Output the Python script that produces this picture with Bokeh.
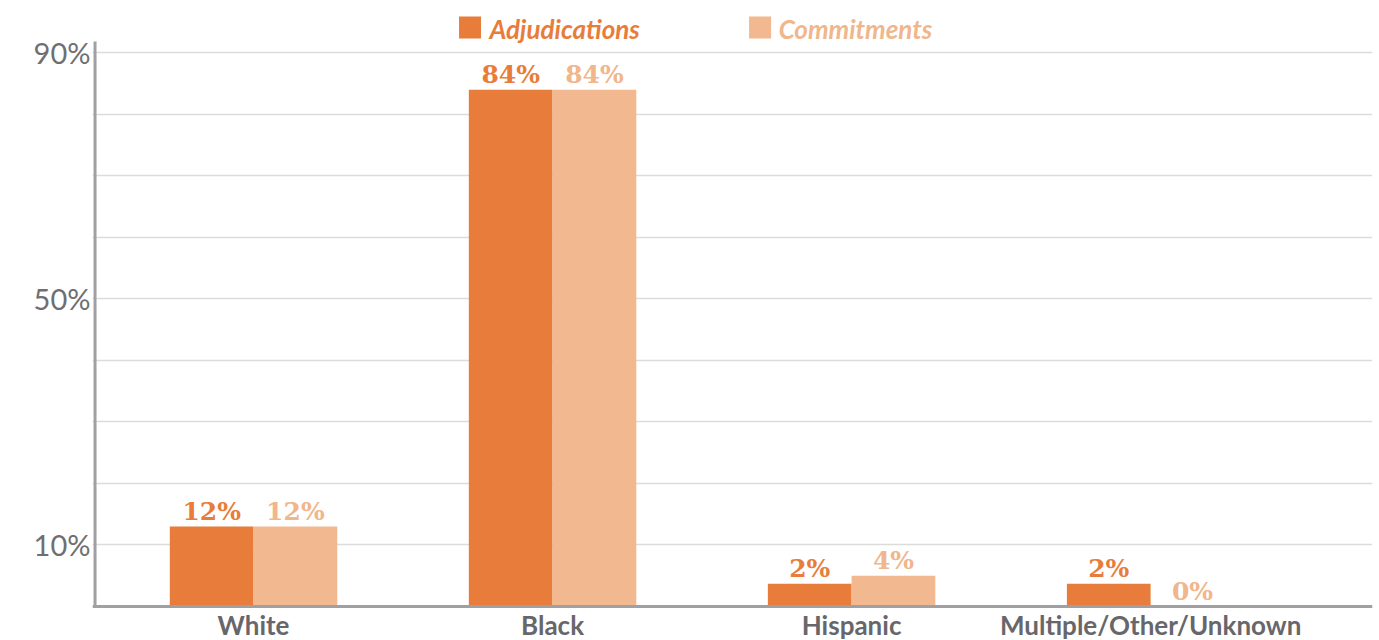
from bokeh.plotting import figure
from bokeh.models import Range1d, FixedTicker, PrintfTickFormatter, Span, ColumnDataSource
from bokeh.core.properties import value
from bokeh.embed import file_html
from bokeh.resources import INLINE

# ---- data ----
categories = ["White", "Black", "Hispanic", "Multiple/Other/Unknown"]
adjudications = [13.0, 84.0, 3.7, 3.7]
commitments = [13.0, 84.0, 5.0, 0.0]
adjudication_labels = ["12%", "84%", "2%", "2%"]
commitment_labels = ["12%", "84%", "4%", "0%"]
series_names = ["Adjudications", "Commitments"]
y_tick_values = [10, 50, 90]
grid_values = [10, 20, 30, 40, 50, 60, 70, 80, 90]

# ---- styles ----
ADJ = "#E87D3B"
COM = "#F2B890"
COM_TXT = "#F0B68C"
GRAY_TXT = "#6f6f72"
AXIS = "#a0a0a4"
BAR_W = 0.28

idx = list(range(len(categories)))
src = ColumnDataSource(dict(
    x_adj=[i - BAR_W / 2 for i in idx],
    x_com=[i + BAR_W / 2 for i in idx],
    adj=adjudications, com=commitments,
    adj_lab=adjudication_labels, com_lab=commitment_labels,
))
cat_src = ColumnDataSource(dict(x=idx, y=[0] * len(idx), t=categories))

p = figure(width=1379, height=640,
           x_range=Range1d(-0.5385, 3.742), y_range=Range1d(-5.527, 98.5),
           x_axis_location=None, output_backend="svg", toolbar_location=None,
           min_border_left=92, min_border_right=7, min_border_top=0, min_border_bottom=0)
p.outline_line_color = None
p.background_fill_color = "white"
p.border_fill_color = "white"

# grid
p.xgrid.grid_line_color = None
p.ygrid.ticker = FixedTicker(ticks=grid_values)
p.ygrid.grid_line_color = "#dcdcdc"
p.ygrid.grid_line_width = 1.5

# y axis
p.yaxis.ticker = FixedTicker(ticks=y_tick_values)
p.yaxis.formatter = PrintfTickFormatter(format="%d%%")
p.yaxis.axis_line_color = None
p.yaxis.major_tick_line_color = None
p.yaxis.minor_tick_line_color = None
p.yaxis.major_tick_out = 0
p.yaxis.major_tick_in = 0
p.yaxis.major_label_standoff = 2
p.yaxis.major_label_text_font = "Lato"
p.yaxis.major_label_text_font_size = "29px"
p.yaxis.major_label_text_color = GRAY_TXT

# bars
p.vbar(x="x_adj", top="adj", bottom=0, width=BAR_W, source=src, fill_color=ADJ, line_color=None)
p.vbar(x="x_com", top="com", bottom=0, width=BAR_W, source=src, fill_color=COM, line_color=None)

# value labels
lab_kw = dict(text_align="center", text_baseline="middle", y_offset=-15,
              text_font=value("DejaVu Serif"), text_font_style="bold", text_font_size="25px")
p.text(x="x_adj", y="adj", text="adj_lab", source=src, text_color=ADJ, **lab_kw)
p.text(x="x_com", y="com", text="com_lab", source=src, text_color=COM_TXT, **lab_kw)

# axis lines
p.segment(x0=[-0.530], y0=[0], x1=[-0.530], y1=[91.84], line_color=AXIS, line_width=3)
p.add_layout(Span(location=0, dimension="width", line_color=AXIS, line_width=3, level="overlay"))

# category labels
p.text(x="x", y="y", text="t", source=cat_src, text_align="center", text_baseline="middle",
       y_offset=19, text_font=value("Lato"), text_font_style="bold", text_font_size="26px",
       text_color="#67676b")

# legend (manual, coloured labels)
leg_sq_x = [0.724, 1.694]
leg_tx_x = [0.789, 1.756]
leg_colors = [ADJ, COM]
leg_txt_colors = [ADJ, COM_TXT]
for name, sx, tx, c, tc in zip(series_names, leg_sq_x, leg_tx_x, leg_colors, leg_txt_colors):
    p.scatter(x=[sx], y=[94.1], marker="square", size=22, fill_color=c, line_color=None)
    p.text(x=[tx], y=[93.8], text=[name], text_align="left", text_baseline="middle",
           text_font=value("Lato"), text_font_style="bold italic", text_font_size="26px",
           text_color=tc)

open("out.html", "w").write(file_html(p, INLINE))
